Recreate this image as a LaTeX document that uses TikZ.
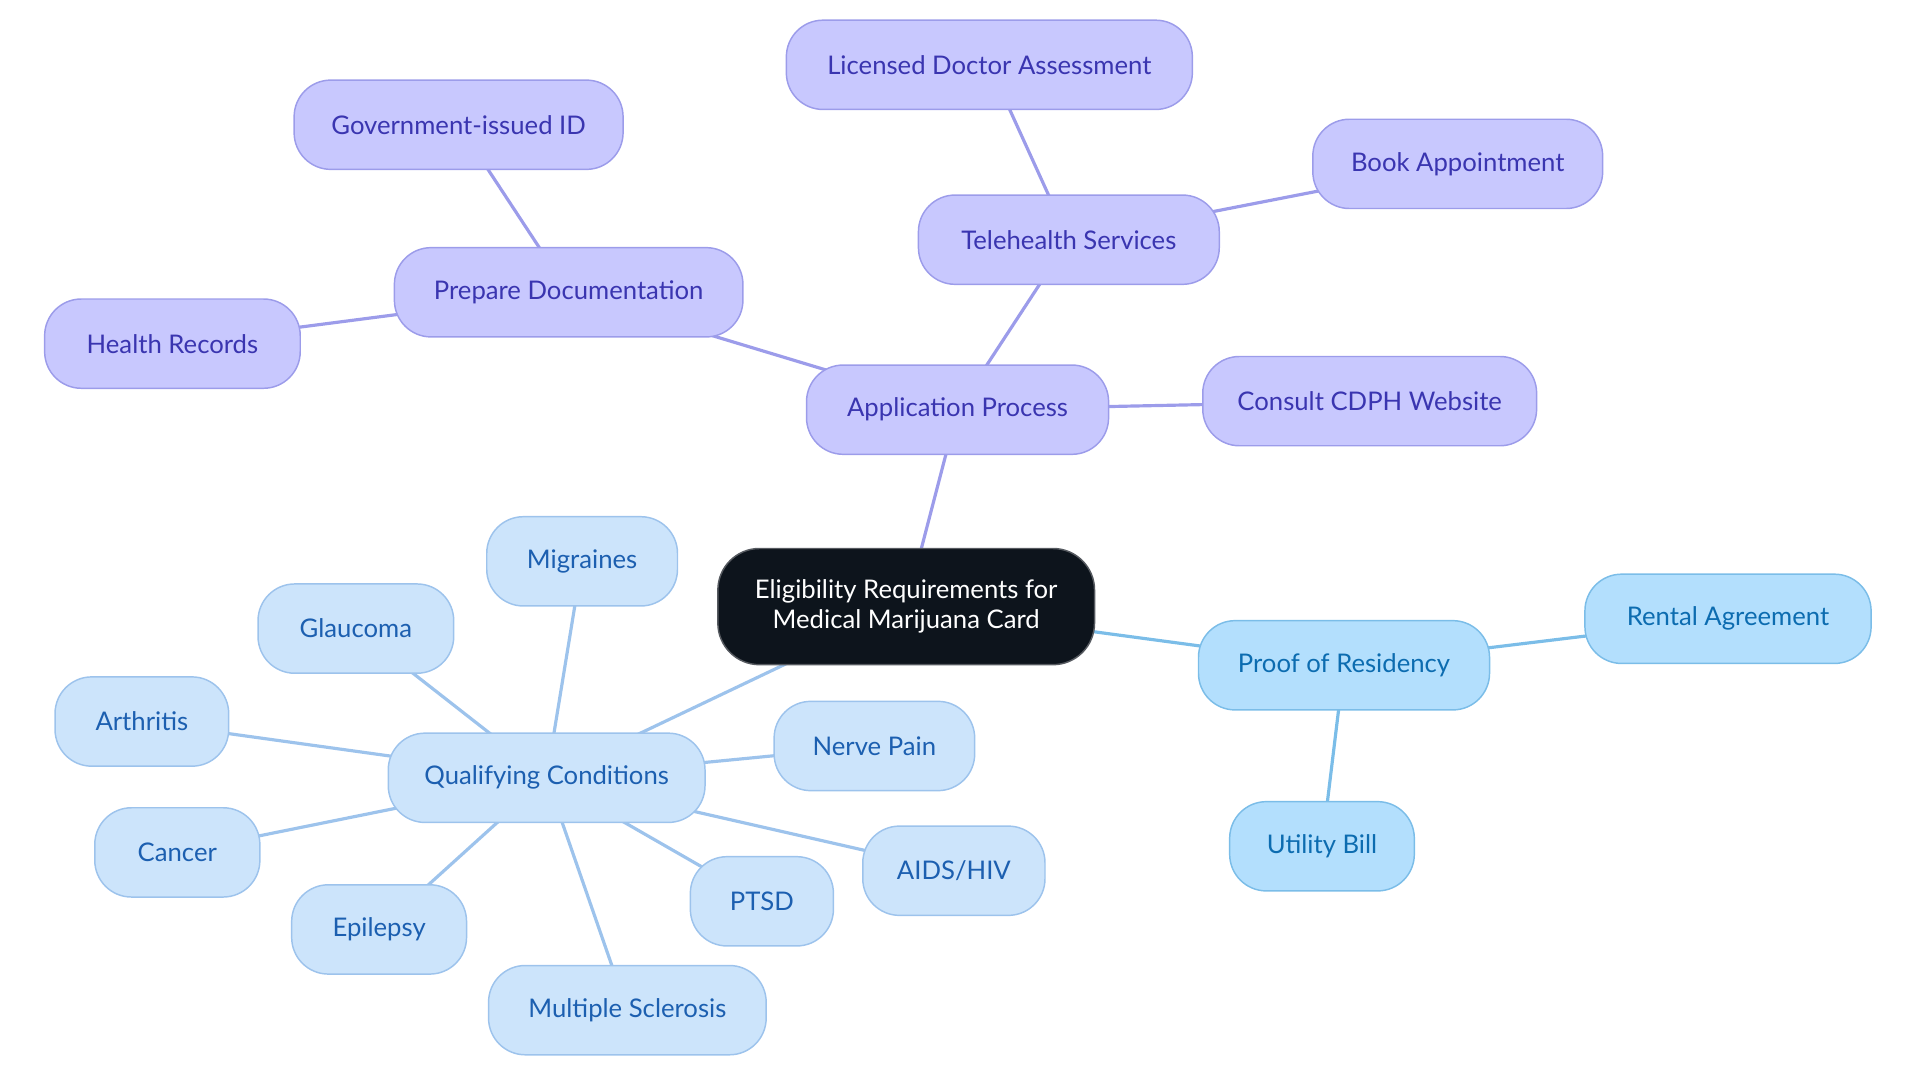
\documentclass[tikz,border=0pt]{standalone}
\usepackage{fontspec}
\setmainfont{Lato}
\usetikzlibrary{backgrounds}
\definecolor{pfill}{HTML}{C8C8FE}
\definecolor{pdraw}{HTML}{9C9CEA}
\definecolor{ptext}{HTML}{3A35B0}
\definecolor{bfill}{HTML}{CCE4FB}
\definecolor{bdraw}{HTML}{9DC3EC}
\definecolor{btext}{HTML}{1C5FB0}
\definecolor{lfill}{HTML}{B3DFFD}
\definecolor{ldraw}{HTML}{7BBDE8}
\definecolor{ltext}{HTML}{0C6CB0}
\definecolor{cfill}{HTML}{0D141C}
\tikzset{
  box/.style={rounded corners=30pt, minimum height=73pt, minimum width=#1, inner sep=0pt, line width=1.2pt, font=\fontsize{21}{25}\selectfont},
  pnode/.style={box=#1, fill=pfill, draw=pdraw, text=ptext},
  bnode/.style={box=#1, fill=bfill, draw=bdraw, text=btext},
  lnode/.style={box=#1, fill=lfill, draw=ldraw, text=ltext},
  cnode/.style={rounded corners=34pt, minimum width=308pt, minimum height=95pt, inner sep=0pt, fill=cfill, draw=cfill!70!white, line width=1.2pt, text=white, align=center, font=\fontsize{21}{25}\selectfont},
  pedge/.style={draw=pdraw, line width=2.6pt},
  bedge/.style={draw=bdraw, line width=2.6pt},
  ledge/.style={draw=ldraw, line width=2.6pt},
}
\begin{document}
\begin{tikzpicture}[x=1pt,y=-1pt]
\useasboundingbox (0,0) rectangle (1570,885.6);
\node[cnode] (c) at (741,496) {Eligibility Requirements for\\Medical Marijuana Card};
\node[pnode=247pt] (app) at (783,335) {Application Process};
\node[pnode=285pt] (prep) at (465,239) {Prepare Documentation};
\node[pnode=269pt] (gov) at (375,102) {Government-issued ID};
\node[pnode=209pt] (health) at (141,281) {Health Records};
\node[pnode=246pt] (tele) at (874,196) {Telehealth Services};
\node[pnode=332pt] (lic) at (809,53) {Licensed Doctor Assessment};
\node[pnode=237pt] (book) at (1192,134) {Book Appointment};
\node[pnode=273pt] (cdph) at (1120,328) {Consult CDPH Website};
\node[lnode=238pt] (proof) at (1099,544) {Proof of Residency};
\node[lnode=234pt] (rent) at (1413,506) {Rental Agreement};
\node[lnode=151pt] (util) at (1081,692) {Utility Bill};
\node[bnode=259pt] (qual) at (447,636) {Qualifying Conditions};
\node[bnode=156pt] (mig) at (476,459) {Migraines};
\node[bnode=160pt] (glau) at (291,514) {Glaucoma};
\node[bnode=142pt] (arth) at (116,590) {Arthritis};
\node[bnode=135pt] (canc) at (145,697) {Cancer};
\node[bnode=143pt] (epil) at (310,760) {Epilepsy};
\node[bnode=227pt] (ms) at (513,826) {Multiple Sclerosis};
\node[bnode=117pt] (ptsd) at (623,737) {PTSD};
\node[bnode=149pt] (aids) at (780,712) {AIDS/HIV};
\node[bnode=164pt] (nerve) at (715,610) {Nerve Pain};
\begin{scope}[on background layer]
\draw[pedge] (c.center) -- (app.center);
\draw[pedge] (app.center) -- (prep.center);
\draw[pedge] (prep.center) -- (gov.center);
\draw[pedge] (prep.center) -- (health.center);
\draw[pedge] (app.center) -- (tele.center);
\draw[pedge] (tele.center) -- (lic.center);
\draw[pedge] (tele.center) -- (book.center);
\draw[pedge] (app.center) -- (cdph.center);
\draw[ledge] (c.center) -- (proof.center);
\draw[ledge] (proof.center) -- (rent.center);
\draw[ledge] (proof.center) -- (util.center);
\draw[bedge] (c.center) -- (qual.center);
\draw[bedge] (qual.center) -- (mig.center);
\draw[bedge] (qual.center) -- (glau.center);
\draw[bedge] (qual.center) -- (arth.center);
\draw[bedge] (qual.center) -- (canc.center);
\draw[bedge] (qual.center) -- (epil.center);
\draw[bedge] (qual.center) -- (ms.center);
\draw[bedge] (qual.center) -- (ptsd.center);
\draw[bedge] (qual.center) -- (aids.center);
\draw[bedge] (qual.center) -- (nerve.center);
\end{scope}
\end{tikzpicture}
\end{document}
